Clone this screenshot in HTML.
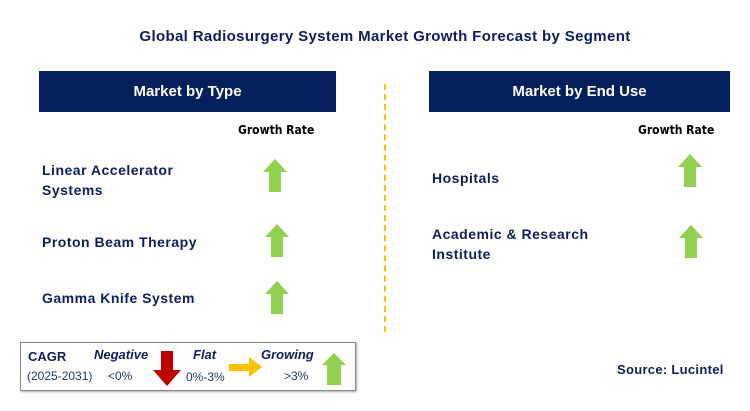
<!DOCTYPE html>
<html><head><meta charset="utf-8"><style>
body{margin:0;width:750px;height:411px;background:#fff;position:relative;overflow:hidden;font-family:"Liberation Sans",Arial,sans-serif}
.a{position:absolute}
.t{color:#0a1f5c;font-weight:bold;font-size:14px}
.w{letter-spacing:0.5px}
.hdr{position:absolute;background:#03205c;color:#fff;font-weight:bold;font-size:15px;text-align:center;height:41px;line-height:41px;top:71px}
.gr{position:absolute;font-size:12px;font-weight:bold;color:#000;font-family:"DejaVu Sans Condensed","Liberation Sans",sans-serif}
</style></head><body>
<div class="a t" style="left:0;width:770px;top:28px;text-align:center;font-size:15px;letter-spacing:0.35px">Global Radiosurgery System Market Growth Forecast by Segment</div>
<div class="hdr" style="left:39px;width:297px">Market by Type</div>
<div class="hdr" style="left:429px;width:301px">Market by End Use</div>
<div class="gr" style="left:238px;top:123px">Growth Rate</div>
<div class="gr" style="left:638px;top:123px">Growth Rate</div>
<div class="a" style="left:384px;top:84px;height:248px;border-left:2px dashed #ffc000"></div>
<div class="a t w" style="left:42px;top:160px;line-height:20px">Linear Accelerator<br>Systems</div>
<div class="a t w" style="left:42px;top:234px">Proton Beam Therapy</div>
<div class="a t w" style="left:42px;top:290px">Gamma Knife System</div>
<div class="a t w" style="left:432px;top:170px">Hospitals</div>
<div class="a t w" style="left:432px;top:224px;line-height:20px">Academic &amp; Research<br>Institute</div>
<svg class="a" style="left:0;top:0" width="750" height="411">
<defs><path id="up" d="M12 0 L24 13 L18 13 L18 33 L6 33 L6 13 L0 13 Z" fill="#92d050"/></defs>
<use href="#up" x="263" y="159"/>
<use href="#up" x="265" y="224"/>
<use href="#up" x="265" y="281"/>
<use href="#up" x="678" y="154"/>
<use href="#up" x="679" y="225"/>
</svg>
<div class="a" style="left:20px;top:342px;width:334px;height:47px;border:1px solid #888;box-shadow:1px 1px 2px #aaa">
<div class="a t" style="left:7px;top:6px;font-size:13px">CAGR</div>
<div class="a" style="left:6px;top:26px;font-size:12px;color:#1f3a6e">(2025-2031)</div>
<div class="a t" style="left:73px;top:4px;font-size:13px;font-style:italic">Negative</div>
<div class="a" style="left:87px;top:26px;font-size:12px;color:#1f3a6e">&lt;0%</div>
<div class="a t" style="left:172px;top:4px;font-size:13px;font-style:italic">Flat</div>
<div class="a" style="left:165px;top:27px;font-size:12px;color:#1f3a6e">0%-3%</div>
<div class="a t" style="left:240px;top:4px;font-size:13px;font-style:italic">Growing</div>
<div class="a" style="left:263px;top:26px;font-size:12px;color:#1f3a6e">&gt;3%</div>
<svg class="a" style="left:0;top:0" width="334" height="47">
<path d="M140 8 L152 8 L152 27 L160 27 L146 43 L132 27 L140 27 Z" fill="#c00000"/>
<path d="M208 21 L228 21 L228 14 L241 24 L228 34 L228 28 L208 28 Z" fill="#ffc000"/>
<path d="M313 10 L325 22 L320 22 L320 42 L306 42 L306 22 L301 22 Z" fill="#92d050"/>
</svg></div>
<div class="a t" style="left:617px;top:362px;font-size:13px;letter-spacing:0.3px">Source: Lucintel</div>
</body></html>
